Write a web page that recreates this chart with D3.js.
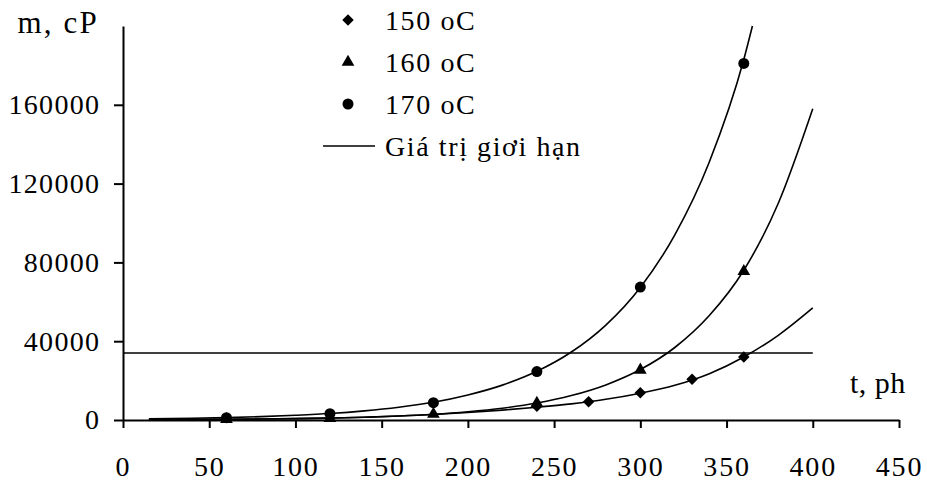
<!DOCTYPE html>
<html>
<head>
<meta charset="utf-8">
<script src="https://cdn.jsdelivr.net/npm/d3@7"></script>
<style>
  body { margin: 0; background: #fff; }
  svg text { font-family: "Liberation Serif", "Times New Roman", serif; fill: #000; }
</style>
</head>
<body>
<svg width="927" height="483"></svg>
<script>
// measured points (t, ph -> viscosity, cP)
var t150 = [240, 270, 300, 330, 360],
    m150 = [7000, 9300, 13800, 20700, 32000];
var t160 = [60, 120, 180, 240, 300, 360],
    m160 = [300, 900, 3000, 8600, 25400, 75500];
var t170 = [60, 120, 180, 240, 300, 360],
    m170 = [1200, 3200, 8800, 24600, 67500, 181000];

// trend curves
var tCurve = [15, 40, 60, 80, 100, 120, 140, 160, 180, 200, 220, 240, 260, 280, 300, 320, 340, 360, 380, 400];
var c150 = [150, 230, 330, 470, 680, 970, 1400, 2000, 2800, 3800, 5000, 6500, 8200, 10500, 13600, 17600, 23500, 32000, 43000, 56900];
var c160 = [150, 230, 330, 470, 680, 970, 1400, 2000, 2900, 4200, 6000, 8600, 12400, 17800, 25600, 36800, 53000, 76000, 110000, 158000];
var tCurve170 = [15, 40, 60, 80, 100, 120, 140, 160, 180, 200, 220, 240, 260, 280, 300, 320, 340, 360, 365];
var c170 = [580, 870, 1220, 1710, 2400, 3300, 4650, 6500, 9000, 12700, 17700, 24700, 34500, 48200, 67300, 94000, 131000, 183000, 200000];

var limitValue = 34000,
    limitRange = [0, 400];

var xTicks = [0, 50, 100, 150, 200, 250, 300, 350, 400, 450],
    yTicks = [0, 40000, 80000, 120000, 160000];

var legendLabels = ["150 oC", "160 oC", "170 oC", "Giá trị giơi hạn"];

var svg = d3.select("svg");

var x = d3.scaleLinear().domain([0, 450]).range([123, 899]),
    y = d3.scaleLinear().domain([0, 200000]).range([420, 26]);

// axes
var xAxis = svg.append("g")
    .attr("transform", "translate(0,420)")
    .call(d3.axisBottom(x).tickValues(xTicks).tickSize(8).tickSizeOuter(0).tickPadding(28));

var yAxis = svg.append("g")
    .attr("transform", "translate(123,0)")
    .call(d3.axisLeft(y).tickValues(yTicks).tickSize(9).tickSizeOuter(0).tickPadding(15).tickFormat(d3.format("d")));

[xAxis, yAxis].forEach(function(a) {
    a.selectAll("path, line").attr("stroke", "#000").attr("stroke-width", 2);
    a.selectAll("text")
        .style("font-family", "'Liberation Serif', serif")
        .attr("font-size", "28px")
        .attr("letter-spacing", "1.3px")
        .attr("fill", "#000");
});
xAxis.selectAll("text").attr("letter-spacing", "1.8px");
yAxis.selectAll("text").attr("dx", "1.3px");

// axis titles
svg.append("text")
    .attr("x", 99).attr("y", 33)
    .attr("text-anchor", "end")
    .attr("font-size", "31px")
    .attr("letter-spacing", "2.2px")
    .text("m, cP");

svg.append("text")
    .attr("x", 850).attr("y", 393)
    .attr("font-size", "30px")
    .attr("letter-spacing", "0.5px")
    .text("t, ph");

// limit line
svg.append("line")
    .attr("x1", x(limitRange[0])).attr("x2", x(limitRange[1]))
    .attr("y1", y(limitValue)).attr("y2", y(limitValue))
    .attr("stroke", "#000").attr("stroke-width", 1.6);

// trend curves
var line = d3.line()
    .x(function(d) { return x(d[0]); })
    .y(function(d) { return y(d[1]); })
    .curve(d3.curveMonotoneX);

[[tCurve, c150], [tCurve, c160], [tCurve170, c170]].forEach(function(c) {
    svg.append("path")
        .datum(d3.zip(c[0], c[1]))
        .attr("d", line)
        .attr("fill", "none")
        .attr("stroke", "#000")
        .attr("stroke-width", 1.6);
});

// markers
var symDiamond = d3.symbol().type(d3.symbolDiamond2).size(85),
    symTriangle = d3.symbol().type(d3.symbolTriangle).size(70),
    symCircle = d3.symbol().type(d3.symbolCircle).size(95);

function drawPoints(ts, ms, sym) {
    svg.append("g").selectAll("path")
        .data(d3.zip(ts, ms))
        .join("path")
        .attr("transform", function(d) { return "translate(" + x(d[0]) + "," + y(d[1]) + ")"; })
        .attr("d", sym)
        .attr("fill", "#000");
}
drawPoints(t150, m150, symDiamond);
drawPoints(t160, m160, symTriangle);
drawPoints(t170, m170, symCircle);

// legend
var legendSyms = [symDiamond, symTriangle, symCircle];
var legendY = [20, 62, 104, 146];
var legend = svg.append("g");
legendLabels.forEach(function(lab, i) {
    if (i < 3) {
        legend.append("path")
            .attr("transform", "translate(348," + legendY[i] + ")")
            .attr("d", legendSyms[i])
            .attr("fill", "#000");
    } else {
        legend.append("line")
            .attr("x1", 323).attr("x2", 375)
            .attr("y1", legendY[i]).attr("y2", legendY[i])
            .attr("stroke", "#000").attr("stroke-width", 1.6);
    }
    legend.append("text")
        .attr("x", 385).attr("y", legendY[i])
        .attr("dy", "0.35em")
        .attr("font-size", "28px")
        .attr("letter-spacing", "1.6px")
        .text(lab);
});
</script>
</body>
</html>
